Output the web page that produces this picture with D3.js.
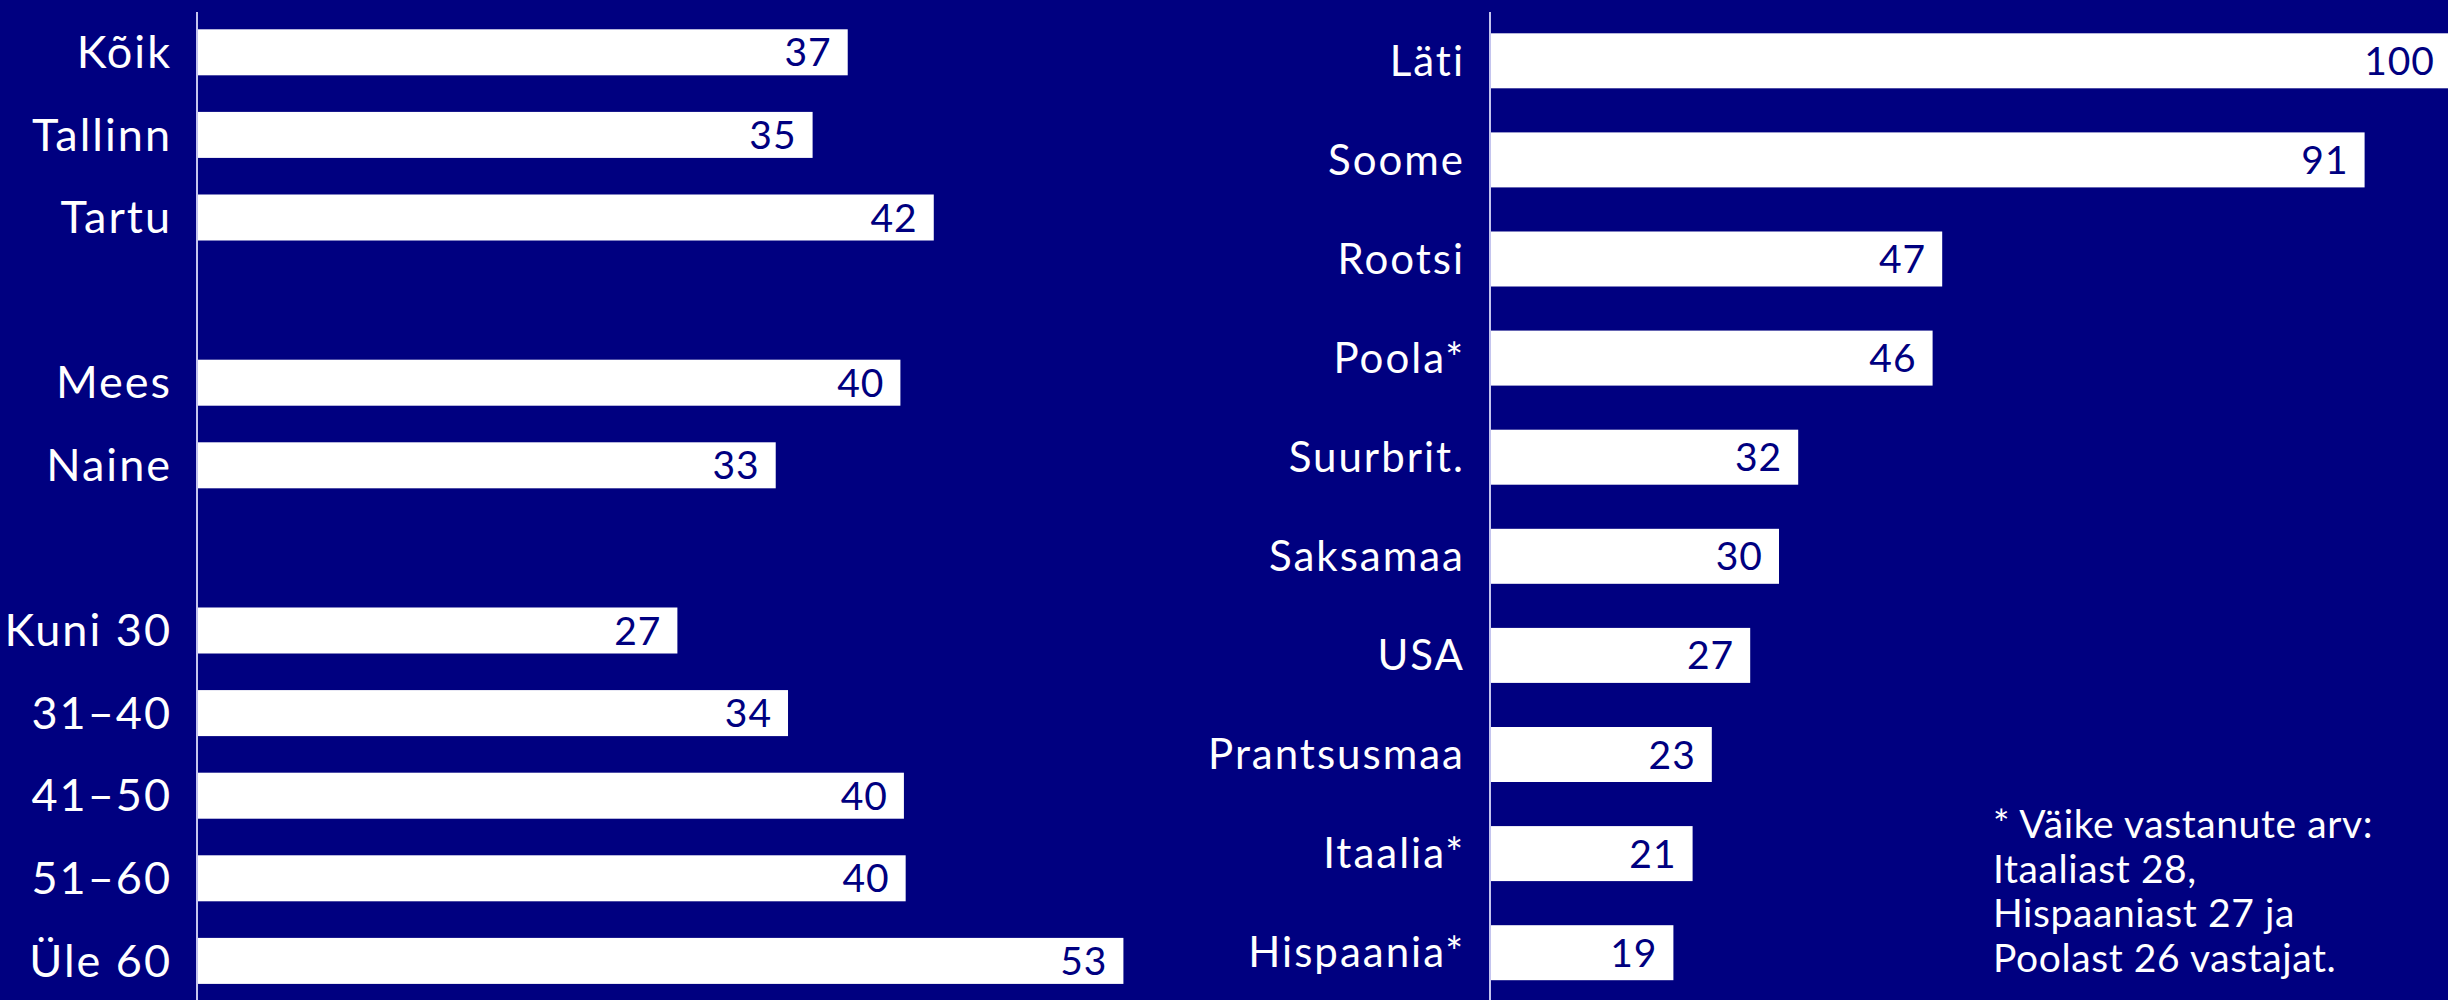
<!DOCTYPE html>
<html lang="et">
<head>
<meta charset="utf-8">
<title>Vastajad</title>
<script src="https://cdn.jsdelivr.net/npm/d3@7"></script>
<style>
  html, body { margin: 0; padding: 0; background: #000080; }
  svg { display: block; }
  text { font-family: Lato, "Open Sans", sans-serif; }
</style>
</head>
<body>
<svg id="chart" width="2448" height="1000"></svg>
<script>
  // ── Data ──────────────────────────────────────────────────────────────────
  // left panel: groups, blank names are spacer rows
  const leftCategories = ['Kõik', 'Tallinn', 'Tartu', '', 'Mees', 'Naine', ' ',
    'Kuni 30', '31–40', '41–50', '51–60', 'Üle 60'];
  // bar lengths (labels show them rounded)
  const leftValues = [37, 35, 41.9, null, 40, 32.9, null, 27.3, 33.6, 40.2, 40.3, 52.7];

  // right panel: countries
  const rightCategories = ['Läti', 'Soome', 'Rootsi', 'Poola*', 'Suurbrit.',
    'Saksamaa', 'USA', 'Prantsusmaa', 'Itaalia*', 'Hispaania*'];
  const rightValues = [100, 91, 47, 46, 32, 30, 27, 23, 21, 19];

  const footnoteLines = ['* Väike vastanute arv:', 'Itaaliast 28,',
    'Hispaaniast 27 ja', 'Poolast 26 vastajat.'];

  const NAVY = '#000080';
  const fmt = d3.format('.0f');
  const svg = d3.select('#chart');

  function drawPanel(cfg) {
    const y = d3.scaleBand()
      .domain(cfg.categories)
      .range(cfg.yRange)
      .paddingInner(cfg.padding)
      .paddingOuter(0);

    const x = d3.scaleLinear().domain(cfg.xDomain).range(cfg.xRange);

    const rows = cfg.categories.map((c, i) => ({ cat: c, value: cfg.values[i] }))
      .filter(d => d.value != null);

    const g = svg.append('g');

    // bars
    g.selectAll('rect.bar')
      .data(rows)
      .enter()
      .append('rect')
      .attr('class', 'bar')
      .attr('x', x(0))
      .attr('y', d => y(d.cat))
      .attr('width', d => x(d.value) - x(0))
      .attr('height', y.bandwidth())
      .attr('fill', '#ffffff');

    // value labels inside the bar end
    g.selectAll('text.val')
      .data(rows)
      .enter()
      .append('text')
      .attr('class', 'val')
      .attr('x', d => x(d.value) - 16)
      .attr('y', d => y(d.cat) + y.bandwidth() / 2)
      .attr('dy', '0.36em')
      .attr('text-anchor', 'end')
      .attr('font-size', cfg.valueSize)
      .attr('letter-spacing', 1)
      .attr('fill', NAVY)
      .text(d => fmt(d.value));

    // category labels
    g.selectAll('text.cat')
      .data(rows)
      .enter()
      .append('text')
      .attr('class', 'cat')
      .attr('x', cfg.axisX - 25)
      .attr('y', d => y(d.cat) + y.bandwidth() / 2)
      .attr('dy', '0.35em')
      .attr('text-anchor', 'end')
      .attr('font-size', cfg.labelSize)
      .attr('letter-spacing', 2)
      .attr('fill', '#ffffff')
      .text(d => d.cat);

    // vertical axis line
    g.append('line')
      .attr('x1', cfg.axisX).attr('x2', cfg.axisX)
      .attr('y1', 12).attr('y2', 1000)
      .attr('stroke', '#c4c4ee')
      .attr('stroke-width', 2);
  }

  drawPanel({
    categories: leftCategories,
    values: leftValues,
    yRange: [29.3, 983.9],
    padding: 0.443,
    xDomain: [0, 60],
    xRange: [198, 198 + 17.56 * 60],
    axisX: 197,
    labelSize: 45,
    valueSize: 39
  });

  drawPanel({
    categories: rightCategories,
    values: rightValues,
    yRange: [33.3, 980.2],
    padding: 0.445,
    xDomain: [0, 100],
    xRange: [1491, 2451],
    axisX: 1490,
    labelSize: 42,
    valueSize: 39
  });

  // footnote
  svg.append('text')
    .attr('x', 1993)
    .attr('y', 838)
    .attr('font-size', 39)
    .attr('letter-spacing', 0.6)
    .attr('fill', '#ffffff')
    .selectAll('tspan')
    .data(footnoteLines)
    .enter()
    .append('tspan')
    .attr('x', 1993)
    .attr('dy', (d, i) => i === 0 ? 0 : 44.5)
    .text(d => d);
</script>
</body>
</html>
